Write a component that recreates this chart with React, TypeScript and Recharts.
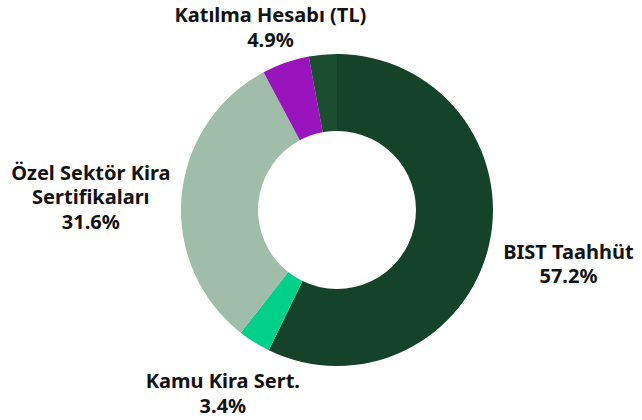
import { PieChart, Pie, Cell } from 'recharts';

const names = ['BIST Taahhüt', 'Kamu Kira Sert.', 'Özel Sektör Kira Sertifikaları', 'Katılma Hesabı (TL)', 'Diğer'];
const values = [57.2, 3.4, 31.6, 4.9, 2.9];
const colors = ['#14432A', '#00D08A', '#9FBDA9', '#9A14BD', '#1B4E2F'];

// label text lines per slice (empty = no label)
const labelLines: string[][] = [
  ['BIST Taahhüt'],
  ['Kamu Kira Sert.'],
  ['Özel Sektör Kira', 'Sertifikaları'],
  ['Katılma Hesabı (TL)'],
  [],
];
// nudges from the radial anchor point
const labelNudge = [
  [20, 5],
  [1, -1],
  [-30, 6],
  [5, 22],
  [0, 0],
];

const data = names.map((name, i) => ({ name, value: values[i] }));

const RAD = Math.PI / 180;
const LINE_H = 24.5;

function renderLabel(props: any) {
  const { cx, cy, midAngle, outerRadius, index } = props;
  const lines = labelLines[index];
  if (!lines || lines.length === 0) return null;
  const r = outerRadius + 61;
  const x = cx + r * Math.cos(-midAngle * RAD) + labelNudge[index][0];
  const y = cy + r * Math.sin(-midAngle * RAD) + labelNudge[index][1];
  const all = [...lines, `${values[index].toFixed(1)}%`];
  const top = y - ((all.length - 1) * LINE_H) / 2;
  return (
    <g>
      {all.map((t, k) => (
        <text
          key={k}
          x={x}
          y={top + k * LINE_H}
          textAnchor="middle"
          dominantBaseline="central"
          fontFamily="'Noto Sans', sans-serif"
          fontWeight={700}
          fontSize={20}
          fill="#121212"
        >
          {t}
        </text>
      ))}
    </g>
  );
}

export default function App() {
  return (
    <div style={{ position: 'absolute', left: 0, top: 0, width: 642, height: 420, background: '#fff' }}>
      <PieChart width={642} height={420} margin={{ top: 0, right: 0, bottom: 0, left: 0 }}>
        <Pie
          data={data}
          dataKey="value"
          nameKey="name"
          cx={337}
          cy={210}
          innerRadius={79}
          outerRadius={156}
          startAngle={90}
          endAngle={-270}
          stroke="none"
          labelLine={false}
          label={renderLabel}
          isAnimationActive={false}
        >
          {data.map((d, i) => (
            <Cell key={d.name} fill={colors[i]} />
          ))}
        </Pie>
      </PieChart>
    </div>
  );
}
